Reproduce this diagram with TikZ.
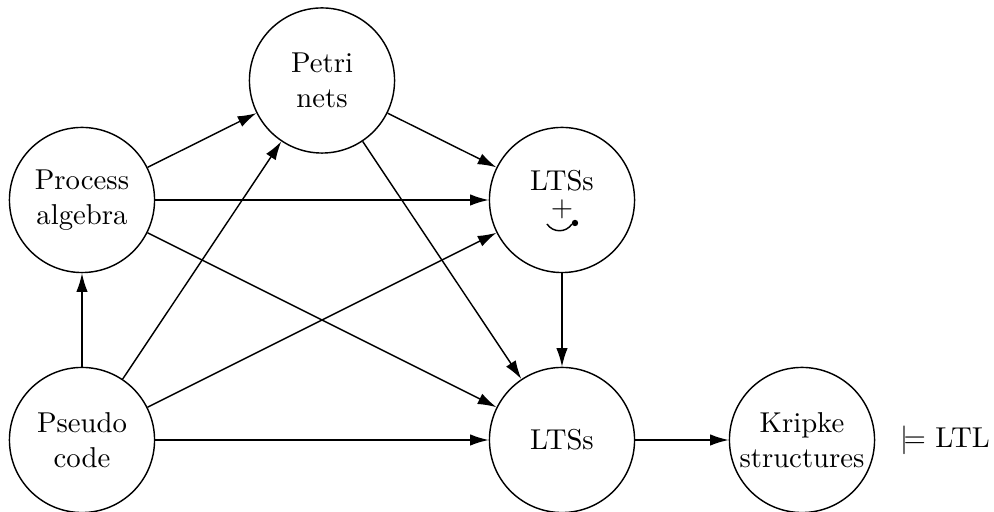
\documentclass[tikz,border=0pt]{standalone}
\usetikzlibrary{arrows.meta}
\begin{document}
\begin{tikzpicture}[x=0.348pt,y=-0.348pt,line width=0.5pt,
  st/.style={circle,draw,minimum size=50.5pt,inner sep=0pt,align=center},
  lbl/.style={inner sep=0pt},
  ar/.style={-{Latex[length=6.5pt,width=4pt]}}]
\useasboundingbox (0,0) rectangle (994,512);
\node[st] (petri) at (322,80.5) {Petri\\nets};
\node[st] (pa) at (82,200) {Process\\algebra};
\node[st] (lt) at (562,200) {};
\node[st] (pc) at (82,440) {Pseudo\\code};
\node[st] (lb) at (562,440) {LTSs};
\node[st] (kr) at (802,440) {Kripke\\structures};
\node (ltl) at (945,440) {$\models$ LTL};
\node[lbl] (ltt) at (562,181) {LTSs};
\node[lbl] (plus) at (562,209) {$+$};
\draw (547,224) .. controls (553,233) and (566,233) .. (572,224);
\fill (575,223) circle (3.2);
\draw[ar] (pa) -- (petri);
\draw[ar] (pa) -- (lt);
\draw[ar] (pa) -- (lb);
\draw[ar] (pc) -- (pa);
\draw[ar] (pc) -- (petri);
\draw[ar] (pc) -- (lt);
\draw[ar] (pc) -- (lb);
\draw[ar] (petri) -- (lt);
\draw[ar] (petri) -- (lb);
\draw[ar] (lt) -- (lb);
\draw[ar] (lb) -- (kr);
\end{tikzpicture}
\end{document}
